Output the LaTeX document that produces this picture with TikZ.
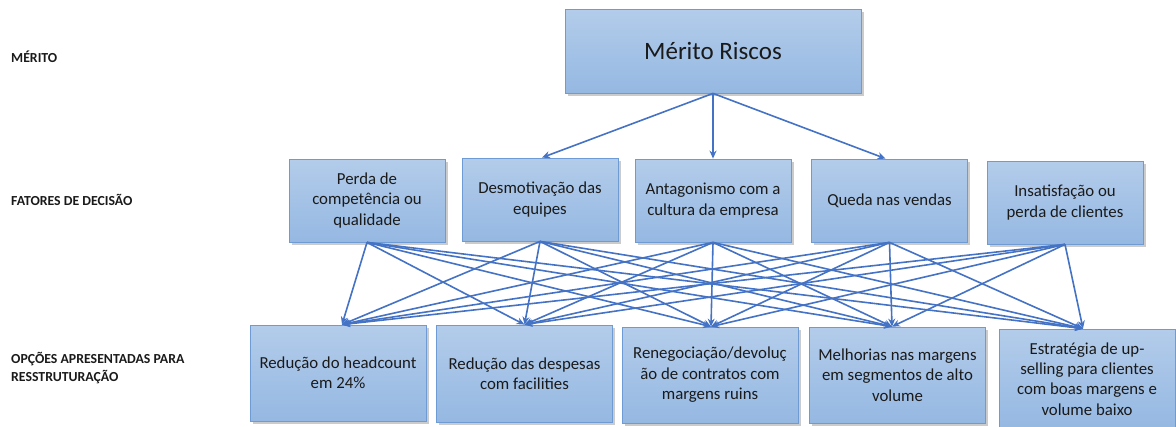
\documentclass[tikz,border=0pt]{standalone}
\usepackage{fontspec}
\setmainfont{Carlito}
\usetikzlibrary{arrows.meta,shadows}
\definecolor{edgeblue}{HTML}{4472C4}
\definecolor{boxline}{HTML}{6E9BD4}
\definecolor{boxtop}{HTML}{B3CCEA}
\definecolor{boxbot}{HTML}{95B8E2}
\definecolor{txt}{HTML}{1A1A1A}
\tikzset{
  box/.style={draw=boxline, line width=0.8pt, top color=boxtop, bottom color=boxbot,
    drop shadow={shadow xshift=2.5pt, shadow yshift=-2.5pt, fill=black!45, opacity=0.45},
    align=center, text=txt, inner sep=2pt,
    font=\fontsize{16.8}{20.4}\selectfont},
  midbox/.style={box, minimum width=156pt, minimum height=83pt},
  lowbox/.style={box, minimum width=176pt},
  lvl/.style={anchor=west, inner sep=0pt, align=left, text=txt,
    font=\fontsize{13.8}{18}\selectfont\bfseries},
  conn/.style={draw=edgeblue, line width=1.6pt, -{Stealth[length=8pt,width=7pt]}}
}
\begin{document}
\begin{tikzpicture}[x=1pt,y=1pt]
\useasboundingbox (0,0) rectangle (1176,-426);
% levels
\node[lvl] (l1) at (11,-57) {MÉRITO};
\node[lvl] (l2) at (11,-200) {FATORES DE DECISÃO};
\node[lvl] (l3) at (11,-368) {OPÇÕES APRESENTADAS PARA\\RESSTRUTURAÇÃO};
% top
\node[box, minimum width=296pt, minimum height=84pt, font=\fontsize{25}{29}\selectfont] (top) at (713,-51) {Mérito Riscos};
% middle
\node[midbox] (m1) at (367,-200.5) {Perda de\\competência ou\\qualidade};
\node[midbox] (m2) at (540,-199.5) {Desmotivação das\\equipes};
\node[midbox] (m3) at (713,-200.5) {Antagonismo com a\\cultura da empresa};
\node[midbox] (m4) at (889.5,-200.5) {Queda nas vendas};
\node[midbox] (m5) at (1065,-202.5) {Insatisfação ou\\perda de clientes};
% bottom
\node[lowbox, minimum height=96pt] (b1) at (338,-373) {Redução do headcount\\em 24\%};
\node[lowbox, minimum height=97pt] (b2) at (524.5,-373.5) {Redução das despesas\\com facilities};
\node[lowbox, minimum height=96pt] (b3) at (710,-375) {Renegociação/devoluç\\ão de contratos com\\margens ruins};
\node[lowbox, minimum height=96pt] (b4) at (897.5,-375) {Melhorias nas margens\\em segmentos de alto\\volume};
\node[lowbox, minimum height=100pt] (b5) at (1087,-379) {Estratégia de up-\\selling para clientes\\com boas margens e\\volume baixo};
% targets
\coordinate (t1) at ([xshift=4pt]b1.north);
\coordinate (t2) at (b2.north);
\coordinate (t3) at ([xshift=1pt]b3.north);
\coordinate (t4) at ([xshift=-5.5pt]b4.north);
\coordinate (t5) at ([xshift=-4pt]b5.north);
% top connectors
\draw[conn] (top.south) -- ([xshift=2pt]m2.north);
\draw[conn] (top.south) -- (m3.north);
\draw[conn] (top.south) -- ([xshift=-4pt]m4.north);
% many-to-many
\foreach \m in {m1,m2,m3,m4,m5}{
  \foreach \t in {t1,t2,t3,t4,t5}{
    \draw[conn] (\m.south) -- (\t);
  }
}
\end{tikzpicture}
\end{document}
